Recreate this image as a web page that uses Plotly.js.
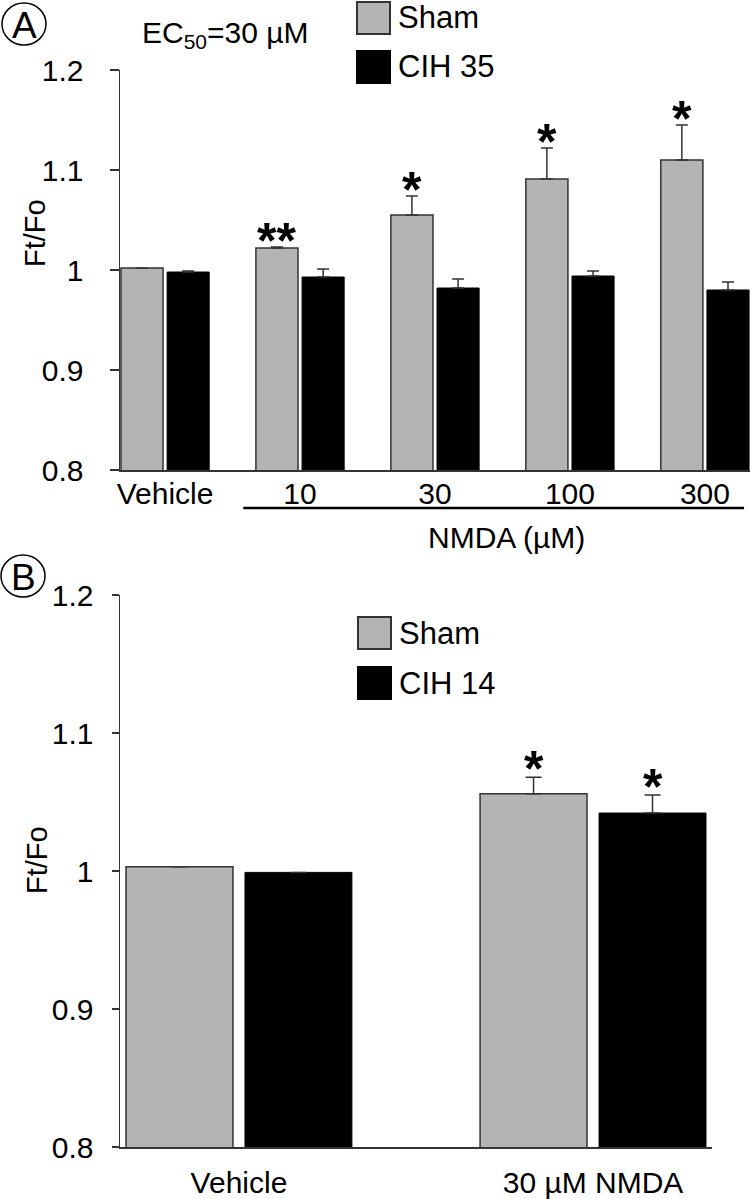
<!DOCTYPE html>
<html>
<head>
<meta charset="utf-8">
<script src="https://cdn.plot.ly/plotly-3.0.1.min.js"></script>
<style>html,body{margin:0;padding:0;background:#fff;}#chart{width:750px;height:1199px;}</style>
</head>
<body>
<div id="chart"></div>
<script>
// ---- Data ----
var seriesNames = ["Sham", "CIH 35"];
var seriesNamesB = ["Sham", "CIH 14"];
var categoriesA = ["Vehicle", "10", "30", "100", "300"];
var shamA = [1.002, 1.022, 1.055, 1.091, 1.110];
var shamErrA = [0, 0.001, 0.019, 0.031, 0.035];
var cihA = [0.998, 0.993, 0.982, 0.994, 0.980];
var cihErrA = [0.001, 0.008, 0.009, 0.005, 0.008];
var shamStarsA = ["", "**", "*", "*", "*"];

var categoriesB = ["Vehicle", "30 µM NMDA"];
var shamB = [1.003, 1.056];
var shamErrB = [0, 0.012];
var cihB = [0.999, 1.042];
var cihErrB = [0, 0.013];
var shamStarsB = ["", "*"];
var cihStarsB = ["", "*"];

var yTickVals = [0.8, 0.9, 1.0, 1.1, 1.2];
var yTickText = ["0.8", "0.9", "1", "1.1", "1.2"];
var yTitle = "Ft/Fo";
var ec50Text = "EC<sub>50</sub>=30 µM";
var groupLabelA = "NMDA (µM)";

// ---- Helpers ----
var W = 750, H = 1199;
function px(x) { return x / W; }
function py(y) { return 1 - y / H; }
var FONT = "Liberation Sans, Arial, sans-serif";
var SHAM_FILL = "#b4b4b4", EDGE = "#333333";

var wA = 0.312, offShamA = -0.327, offCihA = 0.015;
var wB = 0.302, offShamB = -0.319, offCihB = 0.017;

function zeros(n) { var a = []; for (var i = 0; i < n; i++) a.push(0); return a; }

var traces = [
  {type: "bar", x: categoriesA, y: shamA, name: seriesNames[0], xaxis: "x", yaxis: "y",
   width: wA, offset: offShamA,
   marker: {color: SHAM_FILL, line: {color: EDGE, width: 1.5}},
   error_y: {type: "data", array: shamErrA, arrayminus: zeros(5), symmetric: false, color: EDGE, thickness: 1.5, width: 6}},
  {type: "bar", x: categoriesA, y: cihA, name: seriesNames[1], xaxis: "x", yaxis: "y",
   width: wA, offset: offCihA,
   marker: {color: "#000000", line: {color: "#000000", width: 1}},
   error_y: {type: "data", array: cihErrA, arrayminus: zeros(5), symmetric: false, color: EDGE, thickness: 1.5, width: 6}},
  {type: "bar", x: categoriesB, y: shamB, name: seriesNamesB[0], xaxis: "x2", yaxis: "y2",
   width: wB, offset: offShamB,
   marker: {color: SHAM_FILL, line: {color: EDGE, width: 1.5}},
   error_y: {type: "data", array: shamErrB, arrayminus: zeros(2), symmetric: false, color: EDGE, thickness: 1.5, width: 8}},
  {type: "bar", x: categoriesB, y: cihB, name: seriesNamesB[1], xaxis: "x2", yaxis: "y2",
   width: wB, offset: offCihB,
   marker: {color: "#000000", line: {color: "#000000", width: 1}},
   error_y: {type: "data", array: cihErrB, arrayminus: zeros(2), symmetric: false, color: EDGE, thickness: 1.5, width: 8}}
];

var annotations = [];
var shapes = [];

function ann(o) {
  o.showarrow = false;
  if (!o.xanchor) o.xanchor = "center";
  if (!o.yanchor) o.yanchor = "middle";
  annotations.push(o);
}

var STAR_FONT = {family: FONT, size: 50, color: "#000"};
// significance stars
shamStarsA.forEach(function (s, i) {
  if (!s) return;
  ann({xref: "x", yref: "y", x: i + offShamA + wA / 2, y: shamA[i] + shamErrA[i],
    text: "<b>" + s + "</b>", yshift: 6, font: STAR_FONT});
});
shamStarsB.forEach(function (s, i) {
  if (!s) return;
  ann({xref: "x2", yref: "y2", x: i + offShamB + wB / 2, y: shamB[i] + shamErrB[i],
    text: "<b>" + s + "</b>", yshift: 8, font: STAR_FONT});
});
cihStarsB.forEach(function (s, i) {
  if (!s) return;
  ann({xref: "x2", yref: "y2", x: i + offCihB + wB / 2, y: cihB[i] + cihErrB[i],
    text: "<b>" + s + "</b>", yshift: 8, font: STAR_FONT});
});

// y titles
ann({xref: "paper", yref: "paper", x: px(35), y: py(233), text: yTitle, textangle: -90,
  font: {family: FONT, size: 29, color: "#000"}});
ann({xref: "paper", yref: "paper", x: px(37), y: py(860), text: yTitle, textangle: -90,
  font: {family: FONT, size: 29, color: "#000"}});

// EC50
ann({xref: "paper", yref: "paper", x: px(225), y: py(34), text: ec50Text,
  font: {family: FONT, size: 30, color: "#000"}});

// NMDA group label + underline
ann({xref: "paper", yref: "paper", x: px(506), y: py(537), text: groupLabelA,
  font: {family: FONT, size: 30, color: "#000"}});
shapes.push({type: "line", xref: "x", yref: "paper", x0: 0.579, x1: 4.29, y0: py(508), y1: py(508),
  line: {color: "#000", width: 2.5}});

// panel letters
function panelLetter(cx, cy, letter) {
  shapes.push({type: "circle", xref: "paper", yref: "paper", x0: px(cx - 22), x1: px(cx + 22),
    y0: py(cy + 21), y1: py(cy - 21), line: {color: "#000", width: 1.5}});
  ann({xref: "paper", yref: "paper", x: px(cx), y: py(cy + 1), text: letter,
    font: {family: FONT, size: 37, color: "#000"}});
}
panelLetter(24, 24, "A");
panelLetter(23, 576, "B");

// manual legends
function legendItem(x, yTop, name, fill, edge) {
  shapes.push({type: "rect", xref: "paper", yref: "paper", x0: px(x), x1: px(x + 33),
    y0: py(yTop + 32), y1: py(yTop), fillcolor: fill, line: {color: edge, width: 2}});
  ann({xref: "paper", yref: "paper", x: px(x + 39), y: py(yTop + 16), text: name,
    xanchor: "left", font: {family: FONT, size: 31, color: "#000"}});
}
legendItem(357, 2, seriesNames[0], SHAM_FILL, EDGE);
legendItem(357, 51, seriesNames[1], "#000", "#000");
legendItem(358, 617, seriesNamesB[0], SHAM_FILL, EDGE);
legendItem(358, 667, seriesNamesB[1], "#000", "#000");

var axisFont = {family: FONT, size: 30, color: "#000"};
var layout = {
  width: W, height: H,
  margin: {l: 0, r: 0, t: 0, b: 0},
  paper_bgcolor: "#fff", plot_bgcolor: "#fff",
  barmode: "overlay",
  showlegend: false,
  font: {family: FONT, color: "#000"},
  xaxis: {domain: [px(120), 1], anchor: "y", type: "category", range: [-0.334, 4.334],
    showline: true, linecolor: EDGE, linewidth: 1.5, ticks: "", showgrid: false, zeroline: false,
    tickfont: axisFont, ticklabelstandoff: -4},
  yaxis: {domain: [py(470), py(70)], anchor: "x", range: [0.8, 1.2],
    tickvals: yTickVals, ticktext: yTickText, ticks: "outside", ticklen: 9, tickwidth: 1.5, tickcolor: EDGE,
    showline: true, linecolor: EDGE, linewidth: 1.5, showgrid: false, zeroline: false,
    tickfont: axisFont, ticklabelstandoff: 20},
  xaxis2: {domain: [px(120), px(712)], anchor: "y2", type: "category", range: [-0.336, 1.336],
    showline: true, linecolor: EDGE, linewidth: 1.5, ticks: "", showgrid: false, zeroline: false,
    tickfont: axisFont, ticklabelstandoff: 8},
  yaxis2: {domain: [py(1147), py(595)], anchor: "x2", range: [0.8, 1.2],
    tickvals: yTickVals, ticktext: yTickText, ticks: "outside", ticklen: 7, tickwidth: 1.5, tickcolor: EDGE,
    showline: true, linecolor: EDGE, linewidth: 1.5, showgrid: false, zeroline: false,
    tickfont: axisFont, ticklabelstandoff: 12},
  annotations: annotations,
  shapes: shapes
};

Plotly.newPlot("chart", traces, layout, {displayModeBar: false, staticPlot: true});
</script>
</body>
</html>
